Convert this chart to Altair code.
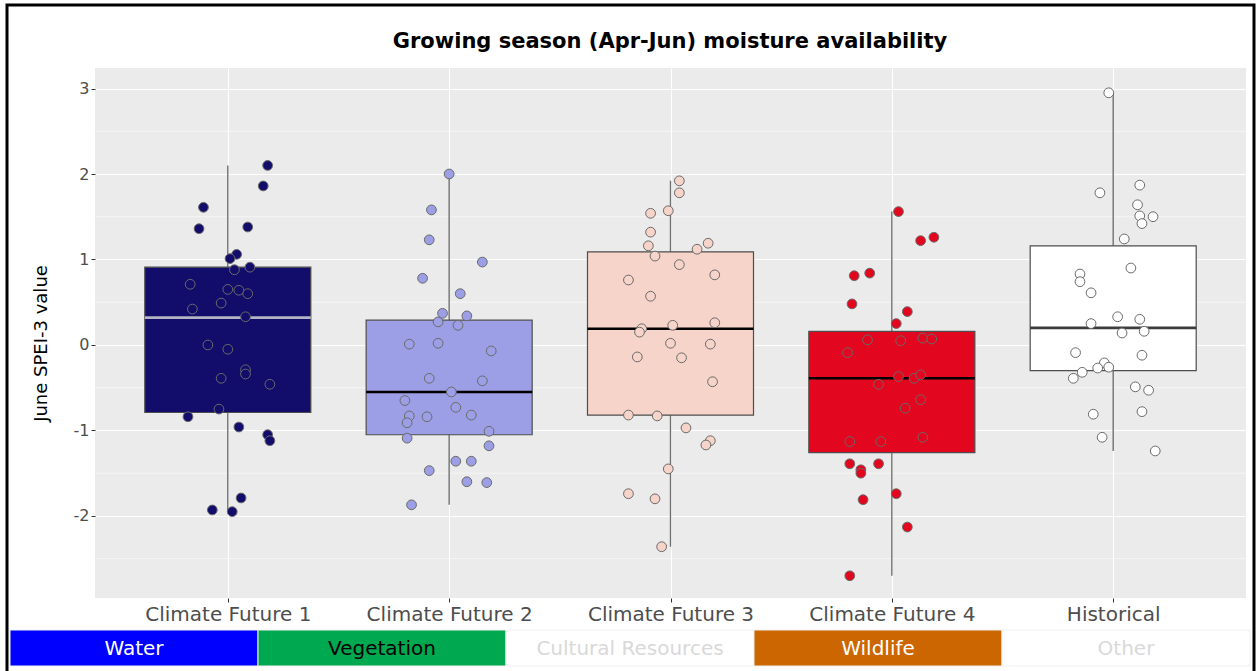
import json
import altair as alt
import pandas as pd

title_text = "Growing season (Apr-Jun) moisture availability"

# ---- categories and styling of each climate scenario ----
groups = ["Climate Future 1", "Climate Future 2", "Climate Future 3",
          "Climate Future 4", "Historical"]
group_fill = ["#120c6a", "#9c9fe6", "#f6d4c9", "#e2061e", "#ffffff"]
median_color = ["#b4b4c4", "#000000", "#000000", "#000000", "#3c3c3c"]

# ---- box summary per scenario (June SPEI-3) ----
whisker_low = [-1.95, -1.87, -2.36, -2.70, -1.24]
quartile_1 = [-0.79, -1.05, -0.82, -1.26, -0.30]
median = [0.32, -0.55, 0.19, -0.39, 0.20]
quartile_3 = [0.91, 0.29, 1.09, 0.16, 1.16]
whisker_high = [2.10, 2.00, 1.92, 1.56, 2.95]

# ---- yearly values and their horizontal jitter (category units) ----
cf1_spei = [2.10, 1.86, 1.61, 1.36, 1.38, 1.06, 1.01, 0.91, 0.88, 0.71,
            0.65, 0.64, 0.60, 0.49, 0.42, 0.33, 0.00, -0.05, -0.29, -0.34,
            -0.39, -0.46, -0.75, -0.84, -0.96, -1.05, -1.12, -1.79, -1.93, -1.95]
cf1_jitter = [0.18, 0.16, -0.11, -0.13, 0.09, 0.04, 0.01, 0.10, 0.03, -0.17,
              0.00, 0.05, 0.09, -0.03, -0.16, 0.08, -0.09, 0.00, 0.08, 0.08,
              -0.03, 0.19, -0.04, -0.18, 0.05, 0.18, 0.19, 0.06, -0.07, 0.02]

cf2_spei = [2.00, 1.58, 1.23, 0.97, 0.78, 0.60, 0.37, 0.34, 0.27, 0.23,
            0.01, 0.02, -0.07, -0.39, -0.42, -0.55, -0.65, -0.73, -0.83, -0.84,
            -0.82, -0.91, -1.01, -1.09, -1.18, -1.36, -1.36, -1.47, -1.60, -1.61, -1.87]
cf2_jitter = [0.00, -0.08, -0.09, 0.15, -0.12, 0.05, -0.03, 0.08, -0.05, 0.04,
              -0.18, -0.05, 0.19, -0.09, 0.15, 0.01, -0.20, 0.03, -0.18, -0.10,
              0.10, -0.19, 0.18, -0.19, 0.18, 0.03, 0.10, -0.09, 0.08, 0.17, -0.17]

cf3_spei = [1.92, 1.78, 1.54, 1.57, 1.32, 1.16, 1.19, 1.12, 1.04, 0.94,
            0.82, 0.76, 0.57, 0.23, 0.26, 0.19, 0.15, 0.02, 0.01, -0.14,
            -0.15, -0.43, -0.82, -0.83, -0.97, -1.12, -1.17, -1.45, -1.74, -1.80, -2.36]
cf3_jitter = [0.04, 0.04, -0.09, -0.01, -0.09, -0.10, 0.17, 0.12, -0.07, 0.04,
              0.20, -0.19, -0.09, 0.01, 0.20, -0.13, -0.14, 0.00, 0.18, -0.15,
              0.05, 0.19, -0.19, -0.06, 0.07, 0.18, 0.16, -0.01, -0.19, -0.07, -0.04]

cf4_spei = [1.56, 1.26, 1.22, 0.81, 0.84, 0.48, 0.39, 0.25, 0.06, 0.05,
            0.08, 0.07, -0.09, -0.37, -0.39, -0.35, -0.46, -0.64, -0.74, -1.13,
            -1.13, -1.08, -1.39, -1.39, -1.46, -1.50, -1.74, -1.81, -2.13, -2.70]
cf4_jitter = [0.03, 0.19, 0.13, -0.17, -0.10, -0.18, 0.07, 0.02, -0.11, 0.04,
              0.14, 0.18, -0.20, 0.03, 0.10, 0.13, -0.06, 0.13, 0.06, -0.19,
              -0.05, 0.14, -0.19, -0.06, -0.14, -0.14, 0.02, -0.13, 0.07, -0.19]

hist_spei = [2.95, 1.87, 1.78, 1.64, 1.51, 1.50, 1.42, 1.24, 0.90, 0.83,
             0.74, 0.61, 0.33, 0.30, 0.25, 0.16, 0.14, -0.09, -0.12, -0.21,
             -0.27, -0.26, -0.32, -0.39, -0.49, -0.53, -0.81, -0.78, -1.08, -1.24]
hist_jitter = [-0.02, 0.12, -0.06, 0.11, 0.12, 0.18, 0.13, 0.05, 0.08, -0.15,
               -0.15, -0.10, 0.02, 0.12, -0.10, 0.14, 0.04, -0.17, 0.13, -0.04,
               -0.07, -0.02, -0.14, -0.18, 0.10, 0.16, -0.09, 0.13, -0.05, 0.19]

# ---- resource sectors shown in the strip under the plot ----
sectors = ["Water", "Vegetation", "Cultural Resources", "Wildlife", "Other"]
sector_fill = ["#0000ff", "#00a84f", "#ffffff", "#cc6600", "#ffffff"]
sector_text = ["#ffffff", "#000000", "#d9d9d9", "#ffffff", "#d9d9d9"]

y_ticks = [-2, -1, 0, 1, 2, 3]
y_minor = [-2.5, -1.5, -0.5, 0.5, 1.5, 2.5]

FONT = "DejaVu Sans"
BOX_HALF = 0.375  # boxes are 0.75 category units wide

# ---- tables ----
boxes = pd.DataFrame({
    "group": groups,
    "pos": list(range(1, len(groups) + 1)),
    "fill": group_fill,
    "med_col": median_color,
    "lo": whisker_low, "q1": quartile_1, "med": median,
    "q3": quartile_3, "hi": whisker_high,
})
boxes["left"] = boxes["pos"] - BOX_HALF
boxes["right"] = boxes["pos"] + BOX_HALF

series = [(cf1_spei, cf1_jitter), (cf2_spei, cf2_jitter), (cf3_spei, cf3_jitter),
          (cf4_spei, cf4_jitter), (hist_spei, hist_jitter)]
rows = []
for i, (vals, jit) in enumerate(series):
    for v, j in zip(vals, jit):
        rows.append({"group": groups[i], "x": i + 1 + j, "spei": v,
                     "fill": group_fill[i]})
points = pd.DataFrame(rows)

strip = pd.DataFrame({
    "label": sectors,
    "s0": list(range(len(sectors))),
    "s1": list(range(1, len(sectors) + 1)),
    "fill": sector_fill,
    "tcol": sector_text,
})
strip["mid"] = strip["s0"] + 0.5

minor = pd.DataFrame({"v": y_minor})

# ---- scales and axes ----
xscale = alt.Scale(domain=[0.4, 5.6], nice=False, zero=False)
yscale = alt.Scale(domain=[-2.96, 3.24], nice=False, zero=False)

xaxis = alt.Axis(
    values=[1, 2, 3, 4, 5],
    labelExpr=f"{json.dumps(groups)}[round(datum.value) - 1]",
    title=None, grid=True, gridColor="#ffffff", gridWidth=1.1,
    domain=False, ticks=True, tickSize=4, tickColor="#333333", tickWidth=1,
    labelFont=FONT, labelFontSize=20, labelColor="#4d4d4d", labelPadding=2,
)
yaxis = alt.Axis(
    values=y_ticks, labelExpr="datum.value + ''", title="June SPEI-3 value",
    grid=True, gridColor="#ffffff", gridWidth=1.1,
    domain=False, ticks=True, tickSize=4, tickColor="#333333", tickWidth=1,
    labelFont=FONT, labelFontSize=16, labelColor="#4d4d4d", labelPadding=2,
    titleFont=FONT, titleFontSize=18, titleFontWeight="normal", titleColor="#000000",
    titleX=-54, titleY=275, titleAngle=270, titleAlign="center", titleBaseline="middle",
)


def X(field):
    return alt.X(f"{field}:Q", scale=xscale, axis=xaxis)


def Y(field):
    return alt.Y(f"{field}:Q", scale=yscale, axis=yaxis)


minor_grid = alt.Chart(minor).mark_rule(color="#ffffff", strokeWidth=0.55).encode(
    y=Y("v"))

whiskers = alt.Chart(boxes).mark_rule(color="#707070", strokeWidth=1.4).encode(
    x=X("pos"), y=Y("lo"), y2="hi")

box_rects = alt.Chart(boxes).mark_rect(stroke="#4d4d4d", strokeWidth=1.2).encode(
    x=X("left"), x2="right", y=Y("q1"), y2="q3",
    fill=alt.Fill("fill:N", scale=None))

medians = alt.Chart(boxes).mark_rule(strokeWidth=2.6).encode(
    x=X("left"), x2="right", y=Y("med"),
    color=alt.Color("med_col:N", scale=None))

dots = alt.Chart(points).mark_circle(
    size=95, stroke="#6a6a6a", strokeWidth=1, opacity=1).encode(
    x=X("x"), y=Y("spei"), fill=alt.Fill("fill:N", scale=None))

main = alt.layer(minor_grid, whiskers, box_rects, medians, dots)

# sector strip along the bottom, on its own horizontal scale
sscale = alt.Scale(domain=[0, 5], range=[-85, 1155], nice=False, zero=False)
strip_rects = alt.Chart(strip).mark_rect(stroke="#f0f0f0", strokeWidth=1).encode(
    x=alt.X("s0:Q", scale=sscale, axis=None), x2="s1",
    y=alt.value(562), y2=alt.value(598),
    fill=alt.Fill("fill:N", scale=None))
strip_text = alt.Chart(strip).mark_text(
    font=FONT, fontSize=20, baseline="middle", align="center").encode(
    x=alt.X("mid:Q", scale=sscale, axis=None), y=alt.value(581),
    text="label:N", color=alt.Color("tcol:N", scale=None))
strip_layer = alt.layer(strip_rects, strip_text)

# heading and black frame around the figure
one_row = pd.DataFrame({"k": [0]})
frame = alt.Chart(one_row).mark_rect(
    fillOpacity=0, stroke="#000000", strokeWidth=3).encode(
    x=alt.value(-88), x2=alt.value(1159), y=alt.value(-63), y2=alt.value(620))
heading = alt.Chart(one_row).mark_text(
    text=title_text, font=FONT, fontSize=21, fontWeight="bold",
    color="#000000", align="center", baseline="middle").encode(
    x=alt.value(575), y=alt.value(-26))

chart = alt.layer(main, strip_layer, frame, heading).resolve_scale(
    x="independent"
).properties(
    width=1151, height=530,
    padding={"left": 95, "top": 68, "right": 11, "bottom": 73},
    autosize="none",
).configure(background="#ffffff").configure_view(
    fill="#EBEBEB", strokeWidth=0)

chart.save("out.html", embed_options={"renderer": "svg", "actions": False})
